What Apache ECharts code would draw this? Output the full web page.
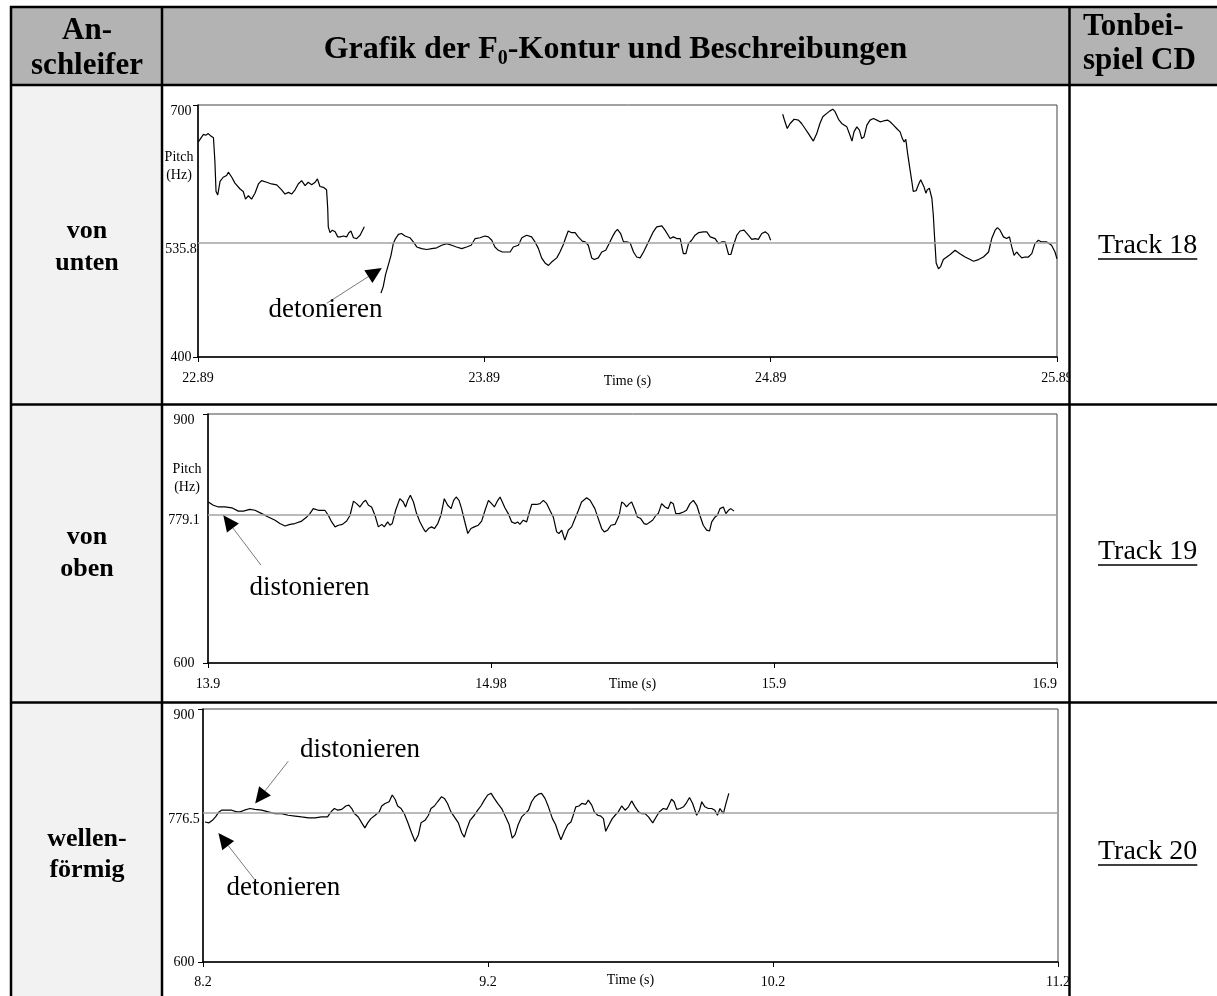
<!DOCTYPE html>
<html><head><meta charset="utf-8">
<script src="https://cdn.jsdelivr.net/npm/echarts@6/dist/echarts.min.js"></script>
<style>html,body{margin:0;padding:0;background:#fff;}#c{width:1217px;height:996px;}</style>
</head><body><div id="c"></div>
<script>
// ---------- DATA ----------
const rowLabels = [['von', 'unten'], ['von', 'oben'], ['wellen-', 'förmig']];
const trackLabels = ['Track 18', 'Track 19', 'Track 20'];
const headLeft = ['An-', 'schleifer'];
const headRight = ['Tonbei-', 'spiel CD'];
const headTitle = ['Grafik der F', '0', '-Kontur und Beschreibungen'];

// x tick labels (seconds) – axis runs 0..3 s from the window start
const xTickLabels1 = ['22.89', '23.89', '24.89', '25.89'];
const xTickLabels2 = ['13.9', '14.98', '15.9', '16.9'];
const xTickLabels3 = ['8.2', '9.2', '10.2', '11.2'];
const yRange1 = [400, 700];
const yRange2 = [600, 900];
const yRange3 = [600, 900];
const refPitch = [535.8, 779.1, 776.5];
const yAxisName = 'Pitch\n(Hz)';
const xAxisName = 'Time (s)';

// F0 contour, "von unten" (t offset s, Hz) – three voiced segments
const vonUntenSeg1 = [[0.001,656],[0.009,660],[0.019,665],[0.027,664],[0.036,666],[0.045,663],[0.054,661],[0.059,633],[0.063,597],[0.069,593],[0.077,609],[0.088,614],[0.100,616],[0.106,620],[0.118,614],[0.129,607],[0.147,600],[0.158,597],[0.166,588],[0.176,592],[0.187,588],[0.199,595],[0.211,606],[0.222,610],[0.240,608],[0.257,606],[0.275,605],[0.292,599],[0.304,594],[0.316,596],[0.327,594],[0.339,599],[0.350,606],[0.362,610],[0.374,604],[0.385,608],[0.397,605],[0.409,608],[0.417,612],[0.426,603],[0.438,602],[0.449,599],[0.453,577],[0.455,555],[0.461,548],[0.469,551],[0.479,549],[0.488,543],[0.496,543],[0.508,544],[0.519,543],[0.527,548],[0.534,550],[0.543,542],[0.554,541],[0.566,545],[0.581,555]];
const vonUntenSeg2 = [[0.639,476],[0.647,484],[0.655,498],[0.665,510],[0.674,521],[0.682,535],[0.690,541],[0.700,546],[0.711,547],[0.723,544],[0.740,542],[0.752,537],[0.764,531],[0.781,529],[0.799,528],[0.816,529],[0.834,530],[0.851,533],[0.869,535],[0.886,533],[0.903,531],[0.921,529],[0.938,531],[0.954,533],[0.968,541],[0.985,542],[1.002,544],[1.014,543],[1.026,539],[1.037,531],[1.049,527],[1.063,525],[1.078,525],[1.090,525],[1.101,531],[1.119,533],[1.131,542],[1.148,545],[1.165,543],[1.177,537],[1.189,529],[1.200,518],[1.212,512],[1.224,509],[1.235,513],[1.253,518],[1.264,525],[1.276,534],[1.284,542],[1.293,550],[1.305,548],[1.317,548],[1.328,543],[1.342,538],[1.352,537],[1.363,533],[1.375,518],[1.384,516],[1.398,518],[1.410,525],[1.424,527],[1.436,535],[1.447,543],[1.457,549],[1.465,552],[1.476,547],[1.486,537],[1.497,537],[1.509,536],[1.521,525],[1.532,519],[1.544,518],[1.556,525],[1.573,537],[1.590,549],[1.602,555],[1.620,556],[1.631,551],[1.649,541],[1.660,543],[1.672,541],[1.684,541],[1.695,523],[1.704,523],[1.713,535],[1.724,539],[1.736,545],[1.748,548],[1.765,549],[1.777,549],[1.789,543],[1.806,541],[1.818,535],[1.829,537],[1.841,537],[1.853,522],[1.861,522],[1.870,533],[1.882,545],[1.893,550],[1.907,551],[1.922,545],[1.934,540],[1.946,541],[1.957,540],[1.969,547],[1.981,549],[1.992,546],[2.000,539]];
const vonUntenSeg3 = [[2.042,689],[2.050,680],[2.058,672],[2.068,678],[2.082,683],[2.097,682],[2.108,678],[2.120,672],[2.132,666],[2.149,657],[2.161,666],[2.172,678],[2.182,686],[2.196,690],[2.207,693],[2.217,695],[2.225,692],[2.237,683],[2.248,678],[2.266,674],[2.277,664],[2.284,657],[2.291,668],[2.301,674],[2.310,670],[2.318,660],[2.326,662],[2.336,676],[2.347,682],[2.359,684],[2.371,682],[2.382,680],[2.394,681],[2.408,682],[2.417,680],[2.429,676],[2.440,672],[2.452,668],[2.460,660],[2.466,656],[2.472,659],[2.478,643],[2.485,627],[2.493,609],[2.498,597],[2.508,598],[2.516,605],[2.524,611],[2.530,613],[2.536,602],[2.542,595],[2.547,599],[2.554,601],[2.563,589],[2.568,569],[2.572,545],[2.578,512],[2.586,505],[2.594,508],[2.603,516],[2.615,519],[2.627,522],[2.644,527],[2.661,523],[2.679,519],[2.697,516],[2.708,514],[2.726,516],[2.743,519],[2.761,525],[2.772,541],[2.784,551],[2.792,554],[2.801,551],[2.813,543],[2.824,541],[2.834,543],[2.842,531],[2.850,521],[2.859,525],[2.869,521],[2.877,518],[2.888,519],[2.900,519],[2.912,523],[2.923,535],[2.935,539],[2.946,537],[2.964,537],[2.981,533],[2.993,525],[3.000,517]];

// F0 contour, "von oben"
const vonObenTrace = [[0.001,794],[0.019,790],[0.037,788],[0.060,788],[0.084,787],[0.107,783],[0.125,783],[0.148,785],[0.166,784],[0.190,780],[0.213,776],[0.237,772],[0.254,768],[0.272,765],[0.290,767],[0.307,768],[0.331,771],[0.349,776],[0.360,780],[0.372,786],[0.390,784],[0.413,784],[0.425,778],[0.437,770],[0.449,764],[0.461,766],[0.475,767],[0.490,771],[0.502,778],[0.514,795],[0.525,792],[0.537,788],[0.549,794],[0.557,796],[0.567,790],[0.578,788],[0.590,778],[0.602,764],[0.614,767],[0.623,764],[0.635,770],[0.643,766],[0.651,768],[0.663,784],[0.678,798],[0.690,794],[0.698,788],[0.706,796],[0.715,802],[0.726,794],[0.737,780],[0.749,770],[0.761,762],[0.769,758],[0.779,762],[0.790,764],[0.800,762],[0.812,768],[0.823,778],[0.835,798],[0.847,790],[0.859,786],[0.868,796],[0.877,800],[0.887,796],[0.896,786],[0.906,772],[0.918,756],[0.929,762],[0.941,764],[0.955,766],[0.967,771],[0.979,784],[0.991,796],[1.002,792],[1.012,788],[1.024,796],[1.032,800],[1.040,794],[1.049,787],[1.061,780],[1.073,770],[1.085,768],[1.094,770],[1.102,767],[1.114,772],[1.126,770],[1.134,780],[1.144,791],[1.161,791],[1.173,792],[1.185,796],[1.197,792],[1.208,784],[1.220,776],[1.232,758],[1.240,756],[1.250,760],[1.261,748],[1.273,760],[1.285,764],[1.297,774],[1.309,784],[1.320,794],[1.338,799],[1.350,796],[1.367,786],[1.379,774],[1.391,762],[1.400,758],[1.412,760],[1.424,766],[1.438,767],[1.444,768],[1.453,778],[1.462,794],[1.470,792],[1.479,788],[1.489,792],[1.497,794],[1.509,784],[1.517,776],[1.529,774],[1.541,768],[1.550,767],[1.562,770],[1.571,772],[1.583,778],[1.591,780],[1.603,792],[1.615,788],[1.626,786],[1.635,794],[1.644,792],[1.653,780],[1.665,780],[1.680,782],[1.691,784],[1.703,792],[1.715,796],[1.727,790],[1.738,778],[1.750,766],[1.762,760],[1.772,759],[1.780,770],[1.792,776],[1.800,778],[1.809,786],[1.821,788],[1.830,780],[1.839,784],[1.847,786],[1.859,783]];

// F0 contour, "wellenförmig"
const wellenTrace = [[0.007,766],[0.021,765],[0.033,768],[0.044,772],[0.056,778],[0.065,780],[0.083,780],[0.101,780],[0.118,778],[0.130,778],[0.145,780],[0.165,782],[0.182,781],[0.206,780],[0.229,778],[0.253,776],[0.276,776],[0.299,774],[0.323,773],[0.346,772],[0.370,771],[0.393,771],[0.416,772],[0.437,772],[0.449,778],[0.461,782],[0.473,780],[0.487,781],[0.501,785],[0.512,786],[0.522,782],[0.531,776],[0.545,772],[0.557,765],[0.568,759],[0.578,765],[0.589,770],[0.604,774],[0.618,778],[0.627,785],[0.639,788],[0.653,790],[0.664,798],[0.674,793],[0.683,785],[0.695,782],[0.706,776],[0.718,766],[0.732,753],[0.744,743],[0.756,751],[0.765,765],[0.779,768],[0.791,774],[0.800,782],[0.812,785],[0.823,790],[0.837,796],[0.847,794],[0.858,788],[0.870,778],[0.882,772],[0.896,765],[0.908,753],[0.917,748],[0.925,757],[0.937,768],[0.952,774],[0.964,780],[0.975,785],[0.987,792],[0.999,798],[1.011,800],[1.022,794],[1.034,788],[1.048,782],[1.062,772],[1.074,763],[1.085,747],[1.095,751],[1.106,763],[1.118,772],[1.130,776],[1.142,780],[1.153,790],[1.165,796],[1.177,799],[1.188,800],[1.200,794],[1.212,784],[1.226,770],[1.237,763],[1.247,753],[1.256,745],[1.268,755],[1.280,763],[1.291,766],[1.299,774],[1.308,784],[1.319,785],[1.329,788],[1.343,787],[1.352,792],[1.364,786],[1.373,778],[1.385,774],[1.396,773],[1.405,770],[1.413,755],[1.425,763],[1.436,770],[1.446,774],[1.457,778],[1.469,785],[1.481,780],[1.493,784],[1.504,791],[1.516,784],[1.528,778],[1.539,776],[1.551,776],[1.563,772],[1.578,765],[1.590,772],[1.601,778],[1.615,782],[1.627,781],[1.633,785],[1.644,793],[1.653,790],[1.662,781],[1.674,782],[1.686,784],[1.695,788],[1.707,795],[1.718,788],[1.732,774],[1.742,780],[1.750,790],[1.761,784],[1.773,782],[1.785,782],[1.796,780],[1.805,774],[1.814,782],[1.826,776],[1.835,788],[1.845,800]];

// annotations: chart index, text, text centre, arrow start, arrow tip (data coords)
const annotations = [
  {g: 0, text: 'detonieren', at: [0.445, 456], from: [0.450, 464], tip: [0.642, 506]},
  {g: 1, text: 'distonieren', at: [0.359, 690], from: [0.187, 718], tip: [0.054, 778]},
  {g: 2, text: 'distonieren', at: [0.551, 852], from: [0.299, 838], tip: [0.183, 788]},
  {g: 2, text: 'detonieren', at: [0.282, 688], from: [0.183, 697], tip: [0.054, 753]}
];

// ---------- LAYOUT / STYLE ----------
const SERIF = '"Liberation Serif", "Times New Roman", serif';
const grids = [
  {left: 198, top: 105, width: 859, height: 252},
  {left: 208, top: 414, width: 849, height: 249},
  {left: 203, top: 709, width: 855, height: 253}
];
const xLabelSets = [xTickLabels1, xTickLabels2, xTickLabels3];
const yRanges = [yRange1, yRange2, yRange3];
const yLabelMargin = [17, 24, 19];
const xNameGap = [17, 14, 11];
const xLabelMargin = [14, 14, 13];
const segments = [[vonUntenSeg1, vonUntenSeg2, vonUntenSeg3], [vonObenTrace], [wellenTrace]];

const chart = echarts.init(document.getElementById('c'), null, {renderer: 'canvas'});

const xAxes = [], yAxes = [], series = [];
grids.forEach((g, i) => {
  const labels = xLabelSets[i];
  xAxes.push({
    type: 'value', gridIndex: i, min: 0, max: 3, interval: 1,
    axisLine: {show: true, onZero: false, lineStyle: {color: '#000', width: 1.5}},
    axisTick: {show: true, length: 5, lineStyle: {color: '#000', width: 1}},
    axisLabel: {
      formatter: v => labels[Math.round(v)], fontFamily: SERIF, fontSize: 14, color: '#000',
      margin: xLabelMargin[i], showMinLabel: true, showMaxLabel: true, hideOverlap: false,
      alignMaxLabel: i === 1 ? 'right' : 'center'
    },
    splitLine: {show: false},
    name: xAxisName, nameLocation: 'middle', nameGap: xNameGap[i], nameMoveOverlap: false,
    nameTextStyle: {fontFamily: SERIF, fontSize: 14, color: '#000'}
  });
  const [mn, mx] = yRanges[i];
  yAxes.push({
    type: 'value', gridIndex: i, min: mn, max: mx,
    axisLine: {show: true, onZero: false, lineStyle: {color: '#000', width: 1.5}},
    axisTick: {show: true, length: 5, customValues: [mn, mx], lineStyle: {color: '#000'}},
    axisLabel: {
      customValues: [mn, refPitch[i], mx], align: 'center', margin: yLabelMargin[i],
      fontFamily: SERIF, fontSize: 14, color: '#000',
      formatter: v => (v === mn ? String(v) : '{d|' + v + '}'),
      rich: {d: {fontFamily: SERIF, fontSize: 14, color: '#000', padding: [12, 0, 0, 0]}}
    },
    splitLine: {show: false}
  });
  segments[i].forEach((seg, k) => {
    const s = {
      type: 'line', xAxisIndex: i, yAxisIndex: i, data: seg, showSymbol: false, symbol: 'none',
      lineStyle: {color: '#000', width: 1.2}, silent: true, z: 3
    };
    if (k === 0) {
      s.markLine = {
        silent: true, symbol: ['none', 'none'], label: {show: false}, animation: false,
        lineStyle: {color: '#a3a3a3', width: 1.5, type: 'solid'},
        data: [{yAxis: refPitch[i]}]
      };
    }
    series.push(s);
  });
});

chart.setOption({
  animation: false,
  backgroundColor: '#fff',
  grid: grids.map(g => Object.assign({show: true, borderColor: '#444', borderWidth: 1, backgroundColor: 'transparent', containLabel: false, outerBoundsMode: 'none'}, g)),
  xAxis: xAxes, yAxis: yAxes, series: series
});

// ---------- TABLE + TEXT GRAPHICS ----------
const mctx = document.createElement('canvas').getContext('2d');
function tw(text, font) { mctx.font = font; return mctx.measureText(text).width; }

const els = [];
// backgrounds
els.push({type: 'rect', z: -10, shape: {x: 11, y: 7, width: 1206, height: 78}, style: {fill: '#b3b3b3'}});
els.push({type: 'rect', z: -10, shape: {x: 11, y: 85, width: 151, height: 911}, style: {fill: '#f2f2f2'}});
// clip area of the last column
els.push({type: 'rect', z: 50, shape: {x: 1070, y: 87, width: 147, height: 909}, style: {fill: '#fff'}});
// table rules
const rules = [
  [10, 7, 1217, 7], [10, 85, 1217, 85], [10, 404.5, 1217, 404.5], [10, 702.5, 1217, 702.5],
  [11, 6, 11, 996], [162, 6, 162, 996], [1069.5, 6, 1069.5, 996]
];
rules.forEach(r => els.push({type: 'line', z: 60, shape: {x1: r[0], y1: r[1], x2: r[2], y2: r[3]}, style: {stroke: '#000', lineWidth: 2.5}}));

function txt(text, x, y, align, size, weight) {
  els.push({type: 'text', z: 70, x: x, y: y, style: {text: text, fill: '#000', fontFamily: SERIF, fontSize: size, fontWeight: weight, textAlign: align, textVerticalAlign: 'middle'}});
}
// header
const HS = 31;
txt(headLeft[0], 87, 31, 'center', HS, 'bold');
txt(headLeft[1], 87, 66, 'center', HS, 'bold');
txt(headRight[0], 1083, 27, 'left', HS, 'bold');
txt(headRight[1], 1083, 61, 'left', HS, 'bold');
// title with subscript
const TS = 32, SS = 20;
const tFont = 'bold ' + TS + 'px ' + SERIF, sFont = 'bold ' + SS + 'px ' + SERIF;
const w0 = tw(headTitle[0], tFont), w1 = tw(headTitle[1], sFont), w2 = tw(headTitle[2], tFont);
const tx0 = 615.5 - (w0 + w1 + w2) / 2;
txt(headTitle[0], tx0, 50, 'left', TS, 'bold');
txt(headTitle[1], tx0 + w0, 59, 'left', SS, 'bold');
txt(headTitle[2], tx0 + w0 + w1, 50, 'left', TS, 'bold');
// row labels
const rowY = [[231, 263], [537, 569], [839, 870]];
rowLabels.forEach((r, i) => { txt(r[0], 87, rowY[i][0], 'center', 26, 'bold'); txt(r[1], 87, rowY[i][1], 'center', 26, 'bold'); });
// track links (underlined)
const trackY = [246, 552, 852];
const TRS = 28;
const regFont = TRS + 'px ' + SERIF;
trackLabels.forEach((t, i) => {
  txt(t, 1098, trackY[i], 'left', TRS, 'normal');
  const w = tw(t, regFont);
  els.push({type: 'line', z: 70, shape: {x1: 1098, y1: trackY[i] + 13, x2: 1098 + w, y2: trackY[i] + 13}, style: {stroke: '#000', lineWidth: 1.5}});
});
// Pitch (Hz) axis titles
const pitchPos = [[179, 166], [187, 478]];
pitchPos.forEach(p => {
  els.push({type: 'text', z: 20, x: p[0], y: p[1], style: {text: yAxisName, fill: '#000', fontFamily: SERIF, fontSize: 14, textAlign: 'center', textVerticalAlign: 'middle', lineHeight: 18}});
});
// annotations
annotations.forEach(a => {
  const P = pt => chart.convertToPixel({gridIndex: a.g}, pt);
  const c = P(a.at), f = P(a.from), t = P(a.tip);
  const dx = t[0] - f[0], dy = t[1] - f[1], len = Math.hypot(dx, dy);
  const ux = dx / len, uy = dy / len, L = 16, W = 7.5;
  const bx = t[0] - ux * L, by = t[1] - uy * L;
  els.push({type: 'line', z: 20, shape: {x1: f[0], y1: f[1], x2: bx, y2: by}, style: {stroke: '#7a7a7a', lineWidth: 1}});
  els.push({type: 'polygon', z: 21, shape: {points: [[t[0], t[1]], [bx - uy * W, by + ux * W], [bx + uy * W, by - ux * W]]}, style: {fill: '#000'}});
  els.push({type: 'text', z: 21, x: c[0], y: c[1], style: {text: a.text, fill: '#000', fontFamily: SERIF, fontSize: 27, textAlign: 'center', textVerticalAlign: 'middle'}});
});

chart.setOption({graphic: {elements: els}});
</script>
</body></html>
